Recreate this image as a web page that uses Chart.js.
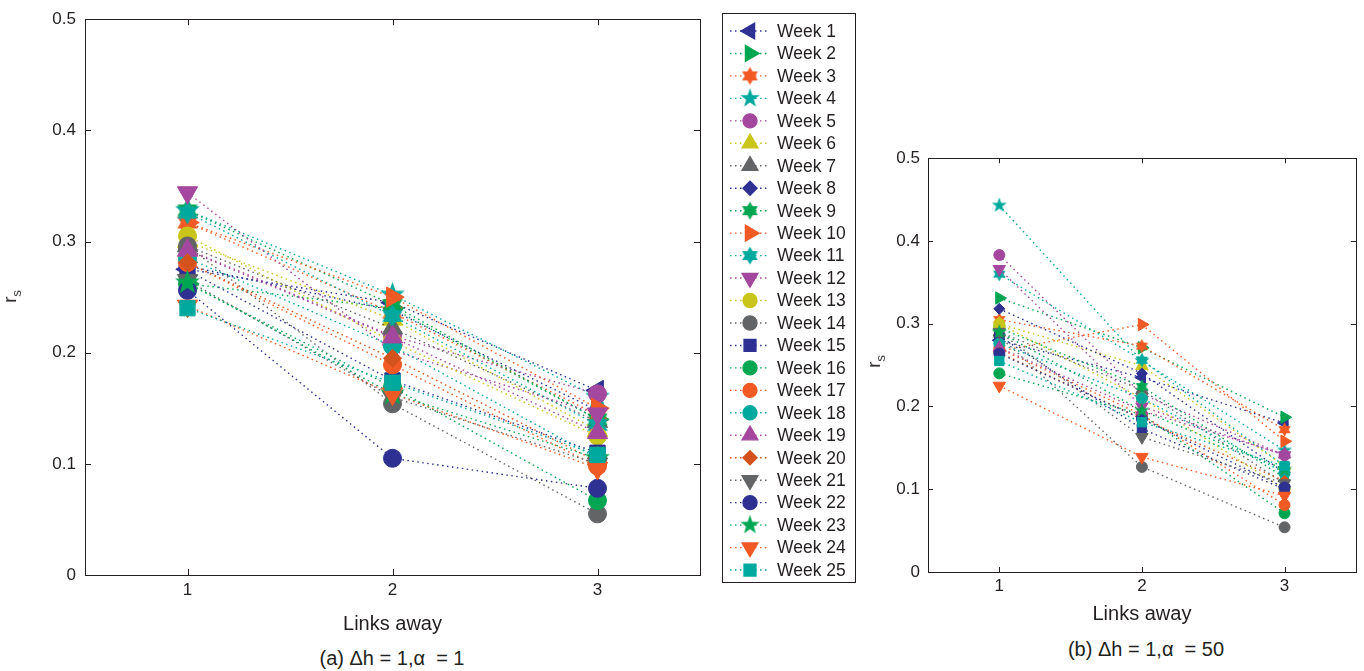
<!DOCTYPE html>
<html>
<head>
<meta charset="utf-8">
<script src="https://cdn.jsdelivr.net/npm/chart.js@4.4.1/dist/chart.umd.min.js"></script>
<style>
  body { margin: 0; background: #fff; width: 1364px; height: 671px; overflow: hidden; position: relative;
         font-family: "Liberation Sans", Arial, sans-serif; color: #231f20; }
  #chartA { position: absolute; left: 0; top: 0; }
  #chartB { position: absolute; left: 860px; top: 140px; }
  .cap { position: absolute; font-size: 20px; white-space: pre; transform: translateX(-50%); }
  .ylab { position: absolute; font-size: 19px; transform: rotate(-90deg); }
  .ylab sub { font-size: 13px; }
</style>
</head>
<body>
<canvas id="chartA" width="860" height="640"></canvas>
<canvas id="chartB" width="504" height="490"></canvas>
<div class="ylab" style="left:5px;top:284px;">r<sub>s</sub></div>
<div class="ylab" style="left:869px;top:349px;">r<sub>s</sub></div>
<div class="cap" style="left:392px;top:647px;">(a) Δh = 1,α  = 1</div>
<div class="cap" style="left:1146px;top:638px;">(b) Δh = 1,α  = 50</div>
<script>
// data
const weeks = Array.from({ length: 25 }, (_, i) => 'Week ' + (i + 1));
const linksAway = [1, 2, 3];

// panel (a): delta h = 1, alpha = 1
const rsA = [
  [0.275, 0.245, 0.166], [0.262, 0.240, 0.140], [0.317, 0.236, 0.144], [0.328, 0.252, 0.160],
  [0.293, 0.215, 0.163], [0.300, 0.230, 0.130], [0.296, 0.222, 0.138], [0.278, 0.238, 0.148],
  [0.328, 0.243, 0.140], [0.317, 0.250, 0.150], [0.326, 0.233, 0.135], [0.344, 0.202, 0.145],
  [0.305, 0.210, 0.125], [0.296, 0.154, 0.055], [0.274, 0.175, 0.110], [0.262, 0.169, 0.067],
  [0.281, 0.189, 0.098], [0.285, 0.206, 0.105], [0.292, 0.214, 0.128], [0.281, 0.195, 0.102],
  [0.265, 0.160, 0.100], [0.256, 0.105, 0.078], [0.263, 0.163, 0.105], [0.242, 0.163, 0.096],
  [0.240, 0.173, 0.108]
];

// panel (b): delta h = 1, alpha = 50
const rsB = [
  [0.280, 0.235, 0.180], [0.331, 0.271, 0.187], [0.305, 0.273, 0.172], [0.443, 0.255, 0.147],
  [0.383, 0.215, 0.141], [0.300, 0.249, 0.128], [0.290, 0.220, 0.107], [0.318, 0.240, 0.120],
  [0.295, 0.224, 0.114], [0.267, 0.299, 0.158], [0.360, 0.256, 0.128], [0.366, 0.200, 0.141],
  [0.300, 0.210, 0.100], [0.285, 0.127, 0.054], [0.285, 0.173, 0.100], [0.240, 0.190, 0.071],
  [0.270, 0.190, 0.081], [0.276, 0.210, 0.120], [0.271, 0.195, 0.142], [0.265, 0.185, 0.110],
  [0.290, 0.163, 0.107], [0.264, 0.185, 0.102], [0.290, 0.195, 0.124], [0.225, 0.139, 0.092],
  [0.255, 0.181, 0.128]
];

const yTicks = [0, 0.1, 0.2, 0.3, 0.4, 0.5];

const NAVY = '#2E3192', GREEN = '#00A651', ORANGE = '#F15A24', TEAL = '#00A99D',
      MAGENTA = '#A4479E', YELLOW = '#C9C51A', GRAY = '#636466', BROWN = '#D4531C';
const colors = [NAVY, GREEN, ORANGE, TEAL, MAGENTA, YELLOW, GRAY,
                NAVY, GREEN, ORANGE, TEAL, MAGENTA, YELLOW, GRAY,
                NAVY, GREEN, ORANGE, TEAL, MAGENTA, BROWN, GRAY,
                NAVY, GREEN, ORANGE, TEAL];
const markers = ['triL', 'triR', 'hex', 'star', 'circle', 'tri', 'tri',
                 'diamond', 'hex', 'triR', 'hex', 'triD', 'circle', 'circle',
                 'square', 'circle', 'circle', 'circle', 'tri', 'diamond', 'triD',
                 'circle', 'star', 'triD', 'square'];

const FONT = '"Liberation Sans", Arial, sans-serif';
const INK = '#231f20';

function starCanvas(color, outer, pts, inner) {
    const c = document.createElement('canvas');
    const s = Math.ceil(outer * 2 + 2);
    c.width = s; c.height = s;
    const g = c.getContext('2d');
    g.fillStyle = color;
    g.beginPath();
    for (let k = 0; k < pts * 2; k++) {
        const r = k % 2 === 0 ? outer : outer * inner;
        const a = -Math.PI / 2 + k * Math.PI / pts;
        const px = s / 2 + r * Math.cos(a), py = s / 2 + r * Math.sin(a);
        if (k === 0) g.moveTo(px, py); else g.lineTo(px, py);
    }
    g.closePath();
    g.fill();
    return c;
}

// turns a marker name into chart.js point options for a given base size
function pointFor(marker, color, r) {
    switch (marker) {
        case 'triL': return { style: 'triangle', rot: -90, radius: r * 1.3 };
        case 'triR': return { style: 'triangle', rot: 90, radius: r * 1.3 };
        case 'triD': return { style: 'triangle', rot: 180, radius: r * 1.3 };
        case 'tri': return { style: 'triangle', rot: 0, radius: r * 1.3 };
        case 'diamond': return { style: 'rectRot', rot: 0, radius: r * 1.0 };
        case 'square': return { style: 'rect', rot: 0, radius: r * 1.2 };
        case 'hex': return { style: starCanvas(color, r * 1.3, 6, 0.58), rot: 0, radius: r };
        case 'star': return { style: starCanvas(color, r * 1.45, 5, 0.4), rot: 0, radius: r };
        default: return { style: 'circle', rot: 0, radius: r };
    }
}

function buildDatasets(values, r) {
    return values.map((vals, i) => {
        const p = pointFor(markers[i], colors[i], r);
        return {
            label: weeks[i],
            data: linksAway.map((x, j) => ({ x: x, y: vals[j] })),
            borderColor: colors[i],
            borderWidth: 1.4,
            borderDash: [1.5, 3.5],
            pointStyle: p.style,
            pointRotation: p.rot,
            pointRadius: p.radius,
            pointBackgroundColor: colors[i],
            pointBorderColor: colors[i],
            pointBorderWidth: 1,
            fill: false,
            tension: 0,
            order: 25 - i
        };
    });
}

// matlab style box with inward ticks
const boxPlugin = {
    id: 'box',
    beforeDatasetsDraw(chart, args, opts) {
        const { ctx, chartArea: a, scales } = chart;
        const t = opts.tick || 6;
        ctx.save();
        ctx.strokeStyle = INK;
        ctx.lineWidth = 1;
        ctx.strokeRect(Math.round(a.left) + 0.5, Math.round(a.top) + 0.5,
                       Math.round(a.right - a.left), Math.round(a.bottom - a.top));
        ctx.beginPath();
        scales.x.ticks.forEach(tk => {
            const px = Math.round(scales.x.getPixelForValue(tk.value)) + 0.5;
            ctx.moveTo(px, a.bottom); ctx.lineTo(px, a.bottom - t);
            ctx.moveTo(px, a.top); ctx.lineTo(px, a.top + t);
        });
        scales.y.ticks.forEach(tk => {
            const py = Math.round(scales.y.getPixelForValue(tk.value)) + 0.5;
            ctx.moveTo(a.left, py); ctx.lineTo(a.left + t, py);
            ctx.moveTo(a.right, py); ctx.lineTo(a.right - t, py);
        });
        ctx.stroke();
        ctx.restore();
    }
};

// legend box to the right of panel (a)
const legendPlugin = {
    id: 'weekLegend',
    afterDraw(chart) {
        const ctx = chart.ctx;
        ctx.save();
        ctx.strokeStyle = INK;
        ctx.lineWidth = 1;
        ctx.strokeRect(722.5, 13.5, 133, 569);
        ctx.font = '17.5px ' + FONT;
        ctx.textBaseline = 'middle';
        chart.data.datasets.forEach((ds, i) => {
            const y = 31 + i * 22.46;
            ctx.strokeStyle = ds.borderColor;
            ctx.lineWidth = 1.4;
            ctx.setLineDash([1.5, 3.5]);
            ctx.beginPath();
            ctx.moveTo(730, y); ctx.lineTo(770, y);
            ctx.stroke();
            ctx.setLineDash([]);
            const p = pointFor(markers[i], colors[i], 7);
            ctx.fillStyle = colors[i];
            ctx.strokeStyle = colors[i];
            Chart.helpers.drawPoint(ctx, { pointStyle: p.style, rotation: p.rot, radius: p.radius, borderWidth: 1 }, 750, y);
            ctx.fillStyle = INK;
            ctx.fillText(weeks[i], 777, y + 1);
        });
        ctx.restore();
    }
};

function makeChart(id, values, r, cfg) {
    return new Chart(document.getElementById(id), {
        type: 'line',
        data: { datasets: buildDatasets(values, r) },
        options: {
            responsive: false,
            animation: false,
            layout: { padding: cfg.padding },
            scales: {
                x: {
                    type: 'linear', min: 0.5, max: 3.5,
                    afterBuildTicks: s => { s.ticks = linksAway.map(v => ({ value: v })); },
                    afterFit: s => { s.height = cfg.xHeight; },
                    grid: { display: false, drawTicks: false },
                    border: { display: false },
                    ticks: { color: INK, font: { family: FONT, size: 17 }, padding: cfg.xPad },
                    title: { display: true, text: 'Links away', color: INK, font: { family: FONT, size: 20 } }
                },
                y: {
                    type: 'linear', min: 0, max: 0.5,
                    afterBuildTicks: s => { s.ticks = yTicks.map(v => ({ value: v })); },
                    afterFit: s => { s.width = cfg.yWidth; },
                    grid: { display: false, drawTicks: false },
                    border: { display: false },
                    ticks: { color: INK, font: { family: FONT, size: 17 }, padding: cfg.yPad }
                }
            },
            plugins: {
                legend: { display: false },
                tooltip: { enabled: false },
                box: { tick: cfg.tick }
            }
        },
        plugins: cfg.legend ? [boxPlugin, legendPlugin] : [boxPlugin]
    });
}

makeChart('chartA', rsA, 9, {
    padding: { left: 0, top: 18, right: 160, bottom: 0 },
    xHeight: 65, yWidth: 85, xPad: 5, yPad: 9, tick: 6, legend: true
});
makeChart('chartB', rsB, 5.5, {
    padding: { left: 0, top: 17, right: 2, bottom: 0 },
    xHeight: 58, yWidth: 68, xPad: 4, yPad: 8, tick: 5, legend: false
});
</script>
</body>
</html>
